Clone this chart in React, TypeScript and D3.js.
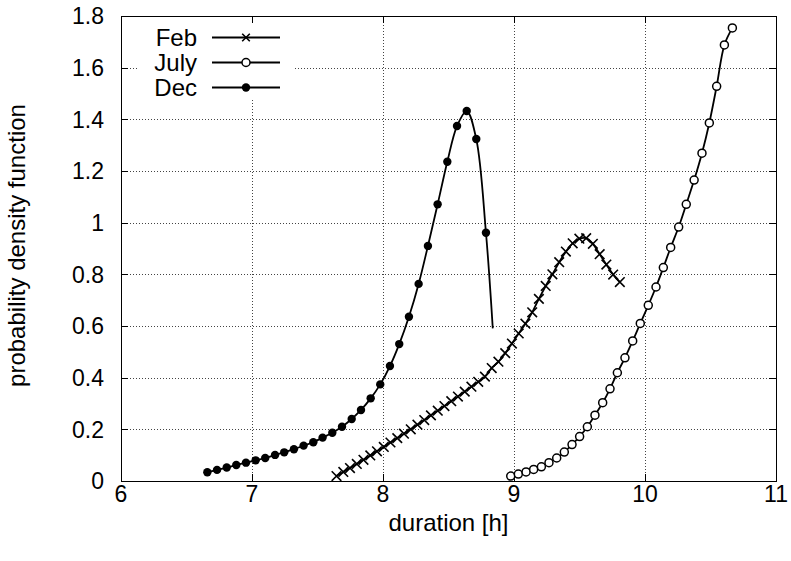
import React from 'react';
import * as d3 from 'd3';

const xTicks = [6, 7, 8, 9, 10, 11];
const yTicks = [0, 0.2, 0.4, 0.6, 0.8, 1.0, 1.2, 1.4, 1.6, 1.8];
const yTickLabels = ['0', '0.2', '0.4', '0.6', '0.8', '1', '1.2', '1.4', '1.6', '1.8'];

const febX = [7.645, 7.697, 7.748, 7.8, 7.851, 7.903, 7.954, 8.006, 8.057, 8.109, 8.16, 8.212, 8.263, 8.315, 8.366, 8.418, 8.469, 8.521, 8.572, 8.624, 8.675, 8.727, 8.778, 8.83, 8.881, 8.933, 8.984, 9.036, 9.087, 9.139, 9.19, 9.242, 9.293, 9.345, 9.396, 9.448, 9.499, 9.551, 9.602, 9.654, 9.705, 9.757, 9.808];
const febY = [0.019, 0.035, 0.05, 0.066, 0.082, 0.099, 0.115, 0.132, 0.149, 0.166, 0.183, 0.2, 0.218, 0.236, 0.254, 0.272, 0.29, 0.309, 0.327, 0.346, 0.365, 0.384, 0.404, 0.437, 0.462, 0.495, 0.532, 0.571, 0.609, 0.653, 0.705, 0.755, 0.8, 0.847, 0.888, 0.92, 0.938, 0.94, 0.918, 0.878, 0.838, 0.799, 0.77];

const julyX = [8.975, 9.033, 9.092, 9.15, 9.209, 9.267, 9.326, 9.384, 9.443, 9.501, 9.56, 9.618, 9.677, 9.733, 9.789, 9.847, 9.906, 9.964, 10.025, 10.084, 10.14, 10.196, 10.257, 10.315, 10.375, 10.435, 10.491, 10.547, 10.606, 10.667];
const julyY = [0.019, 0.027, 0.035, 0.045, 0.055, 0.071, 0.089, 0.112, 0.141, 0.172, 0.21, 0.255, 0.303, 0.357, 0.419, 0.477, 0.542, 0.61, 0.68, 0.751, 0.826, 0.904, 0.983, 1.071, 1.165, 1.269, 1.386, 1.528, 1.688, 1.754];

const decX = [6.659, 6.733, 6.807, 6.88, 6.954, 7.028, 7.101, 7.176, 7.246, 7.32, 7.394, 7.468, 7.539, 7.613, 7.687, 7.761, 7.832, 7.906, 7.979, 8.053, 8.124, 8.198, 8.272, 8.343, 8.417, 8.491, 8.565, 8.639, 8.712, 8.786];
const decY = [0.034, 0.043, 0.052, 0.062, 0.071, 0.08, 0.089, 0.101, 0.111, 0.123, 0.137, 0.15, 0.168, 0.187, 0.21, 0.24, 0.275, 0.32, 0.374, 0.445, 0.53, 0.636, 0.763, 0.91, 1.071, 1.236, 1.374, 1.432, 1.324, 0.961];
const decTailX = [8.838];
const decTailY = [0.591];

const W = 791;
const H = 561;
const L = 121, R = 776, T = 16, B = 481;
const FONT = '"Liberation Sans", Arial, Helvetica, sans-serif';

export default function App() {
  const x = d3.scaleLinear().domain([6, 11]).range([L, R]);
  const y = d3.scaleLinear().domain([0, 1.8]).range([B, T]);

  const line = d3
    .line<[number, number]>()
    .x((d) => x(d[0]))
    .y((d) => y(d[1]))
    .curve(d3.curveCatmullRom.alpha(0.5));

  const feb: [number, number][] = febX.map((v, i) => [v, febY[i]]);
  const july: [number, number][] = julyX.map((v, i) => [v, julyY[i]]);
  const dec: [number, number][] = decX.map((v, i) => [v, decY[i]]);
  const decLine: [number, number][] = dec.concat(decTailX.map((v, i) => [v, decTailY[i]] as [number, number]));

  const cross = (cx: number, cy: number, key: string | number, s = 4.8) => (
    <path
      key={key}
      d={`M${cx - s},${cy - s}L${cx + s},${cy + s}M${cx - s},${cy + s}L${cx + s},${cy - s}`}
      stroke="#000"
      strokeWidth={1.6}
      fill="none"
    />
  );

  const tickLen = 7;
  const legendItems = [
    { name: 'Feb', type: 'cross' },
    { name: 'July', type: 'open' },
    { name: 'Dec', type: 'filled' },
  ];

  return (
    <svg
      width={W}
      height={H}
      style={{ position: 'absolute', left: 0, top: 0, background: '#fff' }}
      fontFamily={FONT}
    >
      <rect x={0} y={0} width={W} height={H} fill="#fff" />
      {/* grid */}
      <g stroke="#444" strokeWidth={1} strokeDasharray="1,2">
        {xTicks.slice(1, -1).map((t) => (
          <line key={'gx' + t} x1={x(t) + 0.5} x2={x(t) + 0.5} y1={T} y2={B} />
        ))}
        {yTicks.slice(1, -1).map((t) => (
          <line key={'gy' + t} x1={L} x2={R} y1={Math.round(y(t)) + 0.5} y2={Math.round(y(t)) + 0.5} />
        ))}
      </g>
      {/* legend background */}
      <rect x={138} y={24} width={155} height={74} fill="#fff" />
      {/* ticks */}
      <g stroke="#000" strokeWidth={1}>
        {xTicks.map((t) => (
          <g key={'tx' + t}>
            <line x1={x(t) + 0.5} x2={x(t) + 0.5} y1={B} y2={B - tickLen} />
            <line x1={x(t) + 0.5} x2={x(t) + 0.5} y1={T} y2={T + tickLen} />
          </g>
        ))}
        {yTicks.map((t) => (
          <g key={'ty' + t}>
            <line x1={L} x2={L + tickLen} y1={Math.round(y(t)) + 0.5} y2={Math.round(y(t)) + 0.5} />
            <line x1={R} x2={R - tickLen} y1={Math.round(y(t)) + 0.5} y2={Math.round(y(t)) + 0.5} />
          </g>
        ))}
      </g>
      {/* series lines */}
      <g fill="none" stroke="#000" strokeWidth={1.8}>
        <path d={line(decLine) || ''} />
        <path d={line(feb) || ''} />
        <path d={line(july) || ''} />
      </g>
      {/* markers */}
      <g>
        {feb.map((d, i) => cross(x(d[0]), y(d[1]), 'f' + i))}
        {july.map((d, i) => (
          <circle key={'j' + i} cx={x(d[0])} cy={y(d[1])} r={4} fill="#fff" stroke="#000" strokeWidth={1.5} />
        ))}
        {dec.map((d, i) => (
          <circle key={'d' + i} cx={x(d[0])} cy={y(d[1])} r={4.2} fill="#000" />
        ))}
      </g>
      {/* legend */}
      <g>
        {legendItems.map((it, i) => {
          const ly = 37.5 + i * 25;
          return (
            <g key={it.name}>
              <text x={197} y={ly} dy="0.35em" textAnchor="end" fontSize={24} fill="#000">
                {it.name}
              </text>
              <line x1={212} x2={280} y1={ly} y2={ly} stroke="#000" strokeWidth={1.8} />
              {it.type === 'cross' && cross(246, ly, 'lc', 3.8)}
              {it.type === 'open' && <circle cx={246} cy={ly} r={4} fill="#fff" stroke="#000" strokeWidth={1.5} />}
              {it.type === 'filled' && <circle cx={246} cy={ly} r={4.2} fill="#000" />}
            </g>
          );
        })}
      </g>
      {/* border */}
      <rect x={L + 0.5} y={T + 0.5} width={R - L} height={B - T} fill="none" stroke="#000" strokeWidth={1} />
      {/* tick labels */}
      <g fontSize={23} fill="#000">
        {yTicks.map((t, i) => (
          <text key={'yl' + t} x={104} y={y(t)} dy="0.36em" textAnchor="end">
            {yTickLabels[i]}
          </text>
        ))}
        {xTicks.map((t) => (
          <text key={'xl' + t} x={x(t)} y={502} textAnchor="middle">
            {t}
          </text>
        ))}
      </g>
      <text x={(L + R) / 2} y={523} dy="0.35em" textAnchor="middle" fontSize={24} fill="#000">
        duration [h]
      </text>
      <text
        transform={`translate(17,${(T + B) / 2 - 3}) rotate(-90)`}
        dy="0.35em"
        textAnchor="middle"
        fontSize={24}
        fill="#000"
      >
        probability density function
      </text>
    </svg>
  );
}
